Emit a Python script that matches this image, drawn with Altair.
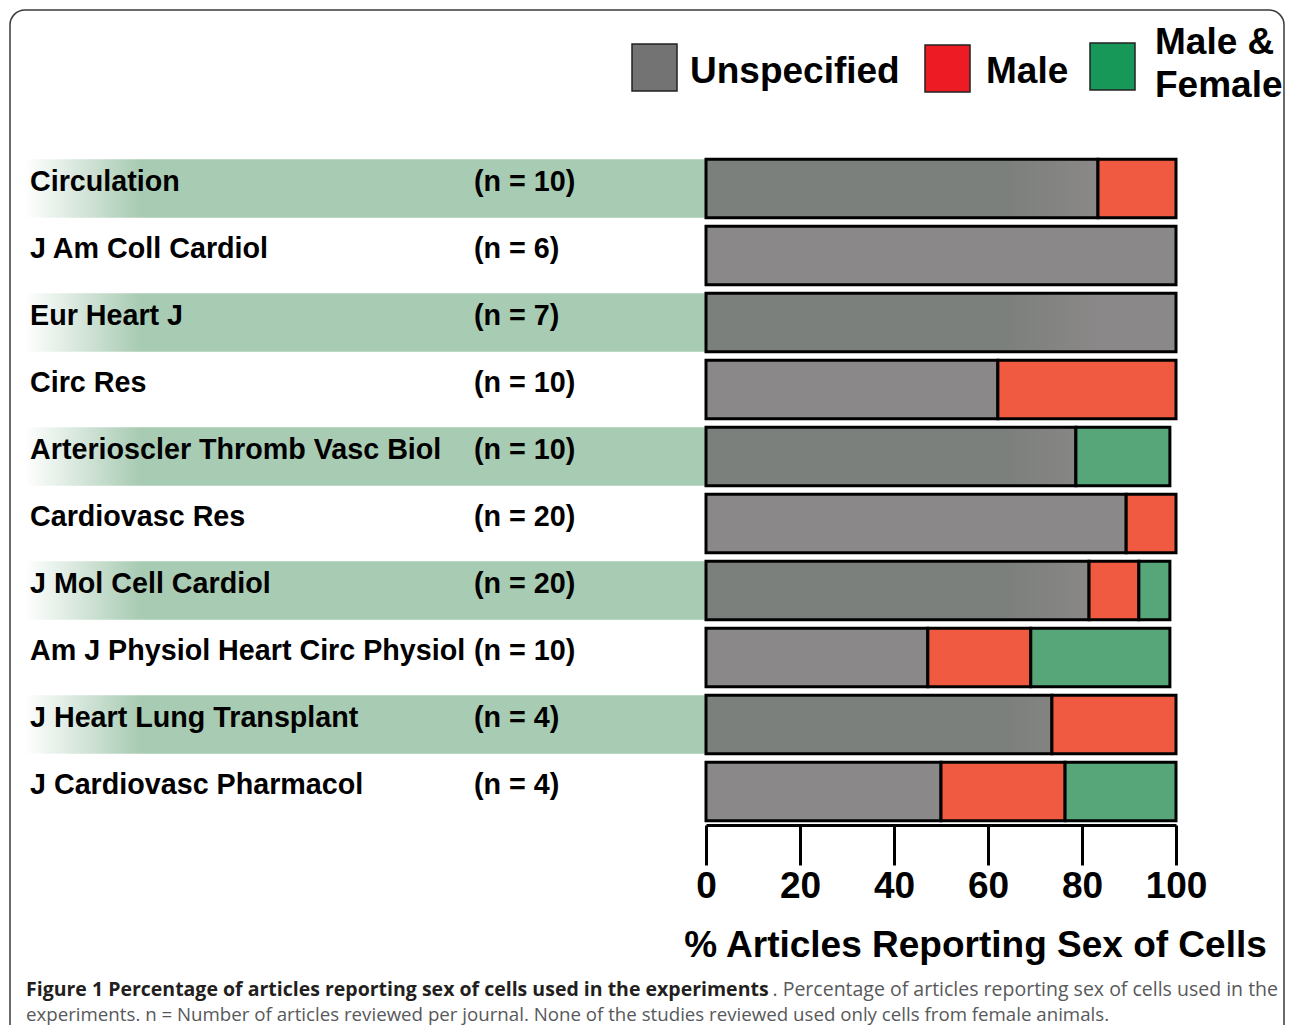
import altair as alt
import pandas as pd

# ---- data ----
journals = ["Circulation", "J Am Coll Cardiol", "Eur Heart J", "Circ Res",
            "Arterioscler Thromb Vasc Biol", "Cardiovasc Res", "J Mol Cell Cardiol",
            "Am J Physiol Heart Circ Physiol", "J Heart Lung Transplant",
            "J Cardiovasc Pharmacol"]
n_articles = [10, 6, 7, 10, 10, 20, 20, 10, 4, 4]
unspecified = [83.4, 100, 100, 62.1, 78.7, 89.4, 81.5, 47.2, 73.6, 50.0]
male = [16.6, 0, 0, 37.9, 0, 10.6, 10.6, 21.9, 26.4, 26.4]
male_female = [0, 0, 0, 0, 20.0, 0, 6.6, 29.6, 0, 23.6]
categories = ["Unspecified", "Male", "Male & Female"]
legend_labels = ["Unspecified", "Male", "Male &\nFemale"]
x_ticks = [0, 20, 40, 60, 80, 100]
x_title = "% Articles Reporting Sex of Cells"
caption_bold = "Figure 1 Percentage of articles reporting sex of cells used in the experiments"
caption_rest1 = ". Percentage of articles reporting sex of cells used in the"
caption_line2 = ("experiments. n = Number of articles reviewed per journal. "
                 "None of the studies reviewed used only cells from female animals.")

# ---- styling ----
FONT = "Liberation Sans, Arial, Helvetica, sans-serif"
CAP_FONT = "Open Sans, Noto Sans, sans-serif"
bar_colors = ["#747171", "#f05a40", "#56a67a"]
legend_colors = ["#737373", "#ed1c24", "#179858"]
band_color = "#a8cbb3"
# legend layout (pixels relative to the plot area)
sw_x = [-74, 219, 384]
sw_y = [-111, -110, -112]
lab_x = [-16, 280, 449]
lab_y = [-72, -72, -101]

series = [unspecified, male, male_female]
rows = []
for ci, (cat, vals) in enumerate(zip(categories, series)):
    for j, v in zip(journals, vals):
        if v > 0:
            rows.append({"journal": j, "category": cat, "value": v, "ord": ci})
bars_df = pd.DataFrame(rows)
labels_df = pd.DataFrame({"journal": journals,
                          "n": [f"(n = {n})" for n in n_articles]})
band_df = pd.DataFrame({"journal": journals[::2]})
one_df = pd.DataFrame({"k": [0]})

y_enc = alt.Y("journal:N", sort=journals, axis=None,
              scale=alt.Scale(domain=journals, paddingInner=0.13, paddingOuter=0.065))

frame = alt.Chart(one_df).mark_rect(
    cornerRadius=15, stroke="#3a3a3a", strokeWidth=1.5, fillOpacity=0
).encode(x=alt.value(-696), x2=alt.value(578), y=alt.value(-145), y2=alt.value(890))

bands = alt.Chart(band_df).mark_rect(
    fill=alt.LinearGradient(
        gradient="linear",
        stops=[alt.GradientStop(offset=0, color="#ffffff"),
               alt.GradientStop(offset=0.107, color=band_color),
               alt.GradientStop(offset=0.915, color=band_color),
               alt.GradientStop(offset=1, color="#ffffff")],
        x1=0, x2=1, y1=0, y2=0)
).encode(y=y_enc, x=alt.value(-681), x2=alt.value(394))

bars = alt.Chart(bars_df).mark_bar(stroke="black", strokeWidth=3).encode(
    x=alt.X("value:Q", stack="zero",
            scale=alt.Scale(domain=[0, 100], nice=False),
            axis=alt.Axis(values=x_ticks, title=x_title, grid=False,
                          labelFlush=False, labelOverlap=False,
                          domainColor="black", domainWidth=3,
                          tickColor="black", tickWidth=3, tickSize=40,
                          labelFont=FONT, labelFontSize=37, labelFontWeight="bold",
                          labelColor="black", labelPadding=3,
                          titleFont=FONT, titleFontSize=37, titleFontWeight="bold",
                          titleColor="black", titleX=269, titleY=131,
                          titleAlign="center", titleBaseline="alphabetic")),
    y=y_enc,
    color=alt.Color("category:N",
                    scale=alt.Scale(domain=categories, range=bar_colors),
                    legend=None),
    fillOpacity=alt.condition(alt.datum.category == "Unspecified",
                              alt.value(0.84), alt.value(1.0)),
    order=alt.Order("ord:Q"),
)

legend_layers = []
for i, cat in enumerate(categories):
    ldf = pd.DataFrame({"category": [cat], "label": [legend_labels[i]]})
    legend_layers.append(
        alt.Chart(ldf).mark_rect(fill=legend_colors[i], stroke="#222222",
                                 strokeWidth=1.5).encode(
            x=alt.value(sw_x[i]), x2=alt.value(sw_x[i] + 45),
            y=alt.value(sw_y[i]), y2=alt.value(sw_y[i] + 47)))
    legend_layers.append(
        alt.Chart(ldf).mark_text(align="left", baseline="alphabetic", font=FONT,
                                 fontSize=37, fontWeight="bold", color="black",
                                 lineBreak="\n", lineHeight=43).encode(
            x=alt.value(lab_x[i]), y=alt.value(lab_y[i]), text="label:N"))

name_text = alt.Chart(labels_df).mark_text(
    align="left", baseline="alphabetic", dy=2, font=FONT, fontSize=28.7,
    fontWeight="bold", color="black"
).encode(y=y_enc, x=alt.value(-676), text="journal:N")

n_text = alt.Chart(labels_df).mark_text(
    align="left", baseline="alphabetic", dy=2, font=FONT, fontSize=28.7,
    fontWeight="bold", color="black"
).encode(y=y_enc, x=alt.value(-232), text="n:N")

cap1 = alt.Chart(one_df).mark_text(
    align="left", baseline="alphabetic", font=CAP_FONT, fontSize=19.5,
    fontWeight="bold", color="#231f20", text=caption_bold
).encode(x=alt.value(-680), y=alt.value(841))

cap2 = alt.Chart(one_df).mark_text(
    align="right", baseline="alphabetic", font=CAP_FONT, fontSize=19.5,
    color="#58595b", text=caption_rest1
).encode(x=alt.value(572), y=alt.value(841))

cap3 = alt.Chart(one_df).mark_text(
    align="left", baseline="alphabetic", font=CAP_FONT, fontSize=18.7,
    color="#58595b", text=caption_line2
).encode(x=alt.value(-680), y=alt.value(866))

chart = alt.layer(
    frame, bands, bars, *legend_layers, name_text, n_text, cap1, cap2, cap3
).resolve_scale(color="independent").properties(
    width=470, height=670,
    autosize=alt.AutoSizeParams(type="none"),
    padding={"left": 698, "top": 147, "right": 109, "bottom": 200},
    background="white",
).configure_view(strokeWidth=0)

chart.save("out.html", embed_options={"renderer": "svg", "actions": False})
